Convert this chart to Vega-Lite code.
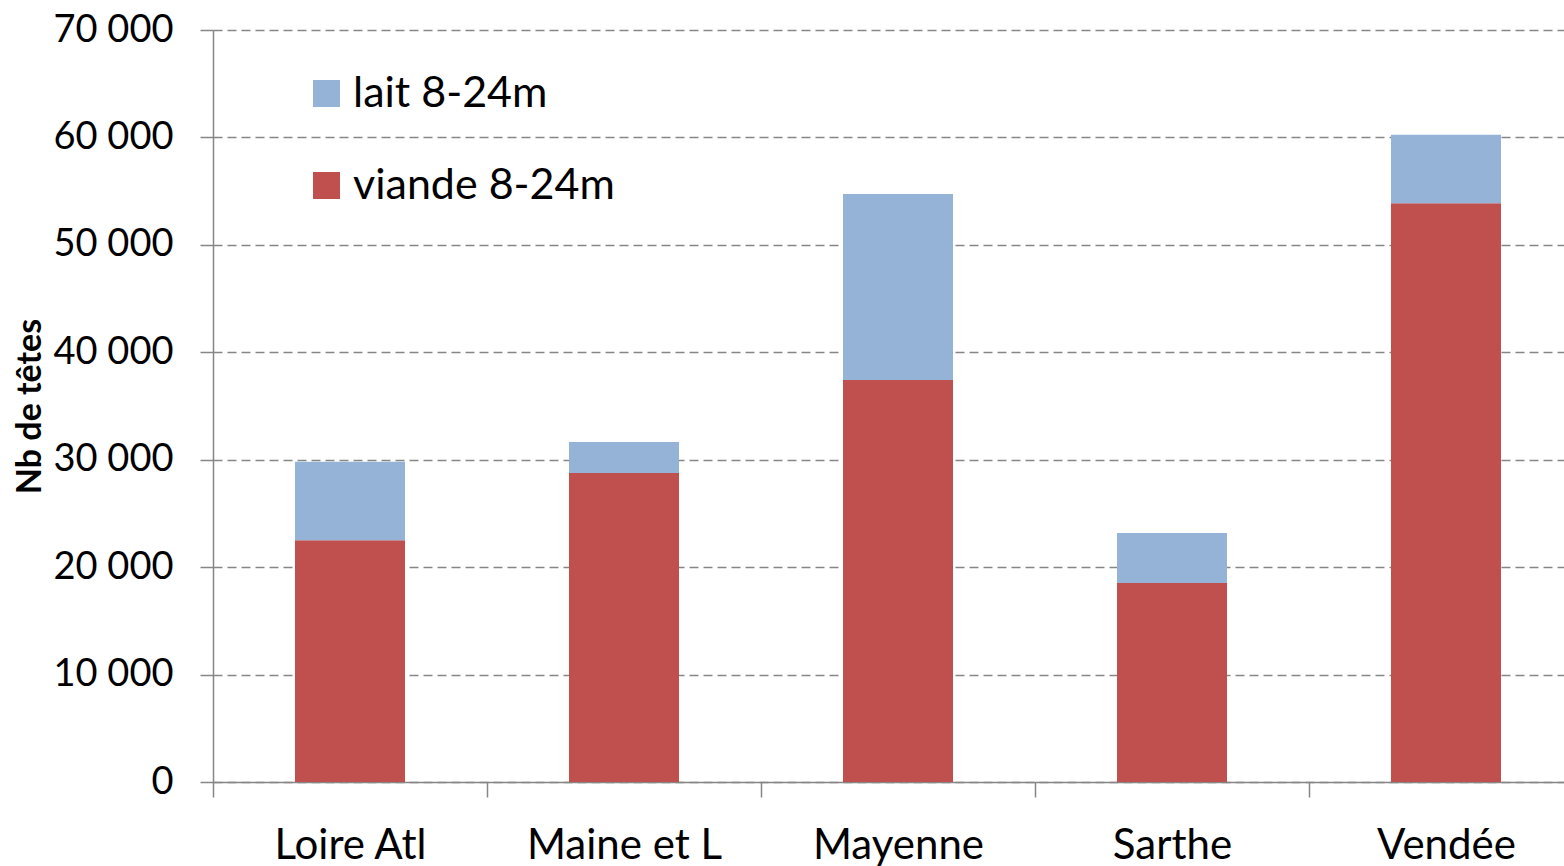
{
  "$schema": "https://vega.github.io/schema/vega-lite/v6.json",
  "autosize": {"type": "none"},
  "padding": {"left": 213, "top": 30, "right": 0, "bottom": 84},
  "width": 1370,
  "height": 752,
  "background": "white",
  "config": {
    "view": {"stroke": null},
    "font": "Lato",
    "axis": {"labelFont": "Lato", "titleFont": "Lato", "labelColor": "black", "titleColor": "black"}
  },
  "data": {
    "values": [
      {"departement": "Loire Atl", "serie": "viande 8-24m", "tetes": 22500},
      {"departement": "Loire Atl", "serie": "lait 8-24m", "tetes": 7300},
      {"departement": "Maine et L", "serie": "viande 8-24m", "tetes": 28760},
      {"departement": "Maine et L", "serie": "lait 8-24m", "tetes": 2890},
      {"departement": "Mayenne", "serie": "viande 8-24m", "tetes": 37420},
      {"departement": "Mayenne", "serie": "lait 8-24m", "tetes": 17310},
      {"departement": "Sarthe", "serie": "viande 8-24m", "tetes": 18520},
      {"departement": "Sarthe", "serie": "lait 8-24m", "tetes": 4660},
      {"departement": "Vendée", "serie": "viande 8-24m", "tetes": 53870},
      {"departement": "Vendée", "serie": "lait 8-24m", "tetes": 6380}
    ]
  },
  "mark": {"type": "bar", "width": {"band": 0.4015}},
  "encoding": {
    "x": {
      "field": "departement",
      "type": "nominal",
      "sort": null,
      "scale": {"paddingInner": 0, "paddingOuter": 0},
      "axis": {
        "title": null,
        "labelAngle": 0,
        "labelFontSize": 42,
        "labelPadding": 28,
        "labelLimit": 400,
        "labelOverlap": false,
        "tickBand": "extent",
        "tickSize": 15,
        "tickColor": "#868686",
        "tickWidth": 1.5,
        "domainColor": "#868686",
        "domainWidth": 1.5,
        "grid": false
      }
    },
    "y": {
      "field": "tetes",
      "type": "quantitative",
      "stack": "zero",
      "scale": {"domain": [0, 70000], "nice": false},
      "axis": {
        "title": "Nb de têtes",
        "titleFontSize": 34,
        "titleFontWeight": "bold",
        "titleAngle": 270,
        "titleAlign": "center",
        "titleBaseline": "middle",
        "titleX": -183,
        "titleY": 376,
        "values": [0, 10000, 20000, 30000, 40000, 50000, 60000, 70000],
        "labelExpr": "replace(format(datum.value, ','), ',', ' ')",
        "labelFontSize": 38,
        "labelPadding": 27,
        "tickSize": 13,
        "tickColor": "#868686",
        "tickWidth": 1.5,
        "domainColor": "#868686",
        "domainWidth": 1.5,
        "grid": true,
        "gridColor": "#868686",
        "gridDash": [9, 5],
        "gridWidth": 1.5
      }
    },
    "color": {
      "field": "serie",
      "type": "nominal",
      "scale": {"domain": ["lait 8-24m", "viande 8-24m"], "range": ["#95B3D7", "#C0504D"]},
      "legend": {
        "title": null,
        "orient": "none",
        "legendX": 92,
        "legendY": 42,
        "padding": 0,
        "symbolType": "square",
        "symbolSize": 729,
        "symbolStrokeWidth": 0,
        "symbolOpacity": 1,
        "labelFontSize": 43,
        "labelFont": "Lato",
        "labelColor": "black",
        "labelOffset": 5,
        "rowPadding": 48,
        "labelLimit": 400
      }
    },
    "order": {"field": "serie", "sort": "descending"}
  }
}
